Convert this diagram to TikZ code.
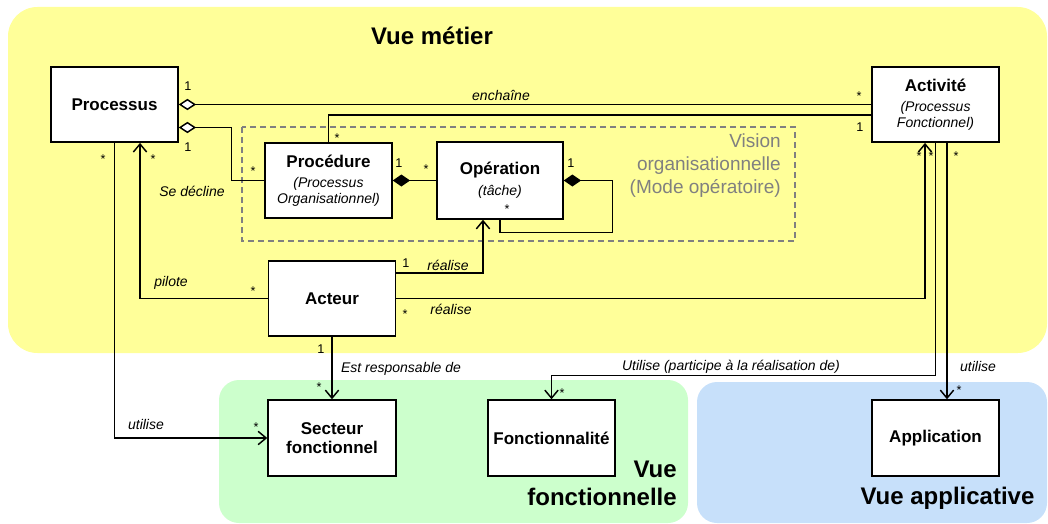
\documentclass[tikz,border=0pt]{standalone}
\usepackage{fontspec}
\setmainfont{Liberation Sans}
\usetikzlibrary{arrows.meta,calc}
\definecolor{yel}{RGB}{255,255,153}
\definecolor{grn}{RGB}{204,255,204}
\definecolor{blu}{RGB}{199,224,250}
\definecolor{gtxt}{RGB}{128,128,128}
\newcommand\bxf{\fontsize{12.75}{15}\selectfont\bfseries}
\newcommand\subf{\fontsize{10.5}{12}\selectfont\itshape}
\begin{document}
\begin{tikzpicture}[x=0.75pt,y=-0.75pt,
  box/.style={draw=black, fill=white, line width=1.1pt, inner sep=0pt, align=center,
              minimum width=95.25pt, minimum height=56.5pt},
  conn/.style={line width=1.1pt},
  arr/.style={conn, -{Straight Barb[length=6pt,width=10pt,line width=1.1pt]}},
  aggr/.style={conn, {Diamond[fill=white,length=13pt,width=8.5pt,line width=1.1pt]}-},
  comp/.style={conn, {Diamond[fill=black,length=13pt,width=9pt,line width=1.1pt]}-},
  lab/.style={font=\fontsize{10.5}{12.6}\selectfont\itshape, inner sep=0pt},
  mult/.style={font=\fontsize{9.5}{10}\selectfont, inner sep=0pt},
  star/.style={mult, yshift=-2pt},
  title/.style={font=\fontsize{18}{21}\selectfont\bfseries, inner sep=0pt}
]
\useasboundingbox (0,0) rectangle (1048,524);
% regions
\fill[yel, rounded corners=22pt] (8,7) rectangle (1047,353);
\fill[grn, rounded corners=15pt] (219,380) rectangle (688,523);
\fill[blu, rounded corners=15pt] (697,382) rectangle (1047,523);
\draw[gtxt, line width=0.8pt, dash pattern=on 4.5pt off 3pt] (242,127) rectangle (795,241);

% titles
\node[title] (tmetier) at (432,36) {Vue métier};
\node[title, align=right, anchor=east] (tfonc) at (677,483) {Vue\\fonctionnelle};
\node[title] (tappl) at (947.5,498) {Vue applicative};
\node[font=\fontsize{14.25}{17.25}\selectfont, text=gtxt, align=right, anchor=east, inner sep=0pt] (vision) at (781,166) {Vision\\organisationnelle\\(Mode opératoire)};

% boxes
\node[box] (proc) at (114.5,104.5) {\bxf Processus};
\node[box] (activ) at (935.5,104.5) {{\bxf Activité}\\[3pt]\subf (Processus\\\subf Fonctionnel)};
\node[box] (procd) at (328.5,180.5) {{\bxf Procédure}\\[3pt]\subf (Processus\\\subf Organisationnel)};
\node[box, minimum width=94.5pt, minimum height=57.75pt] (oper) at (500,180.5) {{\bxf Opération}\\[4pt]\subf (tâche)};
\node[box] (acteur) at (332,298.5) {\bxf Acteur};
\node[box, minimum width=96pt, minimum height=57pt] (secteur) at (332,438) {\bxf Secteur\\[2pt]\bxf fonctionnel};
\node[box, minimum height=57pt] (fonct) at (551.5,438) {\bxf Fonctionnalité};
\node[box, minimum height=57pt] (appli) at (935.5,438) {\bxf Application};

% connectors
\draw[aggr] (proc.east) -- (activ.west);
\draw[aggr] ($(proc.east)+(0,23)$) -| ($(procd.west)+(-33,0)$) -- (procd.west);
\draw[conn] ($(activ.west)+(0,10.5)$) -| (procd.north);
\draw[comp] (procd.east) -- (oper.west);
\draw[comp] (oper.east) -- ++(49,0) |- ($(oper.south)+(0,13)$) -- (oper.south);
\draw[arr] ($(acteur.east)+(0,-25.5)$) -| ($(oper.south)+(-17,0)$);
\draw[arr] (acteur.east) -| ($(activ.south)+(-10.5,0)$);
\draw[arr] (activ.south) |- ($(fonct.north)+(0,-24)$) -- (fonct.north);
\draw[arr] ($(activ.south)+(11.5,0)$) -- ($(appli.north)+(11.5,0)$);
\draw[arr] (proc.south) |- (secteur.west);
\draw[arr] (acteur.west) -| ($(proc.south)+(25.5,0)$);
\draw[arr] (acteur.south) -- (secteur.north);

% labels
\node[lab] (lench) at (501,95) {enchaîne};
\node[lab] (ldecl) at (192,191) {Se décline};
\node[lab] (lreal1) at (448,265) {réalise};
\node[lab] (lreal2) at (451,309) {réalise};
\node[lab] (lpil) at (171,283) {pilote};
\node[lab] (lresp) at (401,369) {Est responsable de};
\node[lab] (lutil1) at (731,367) {Utilise (participe à la réalisation de)};
\node[lab] (lutil2) at (978,366) {utilise};
\node[lab] (lutil3) at (146,424) {utilise};

% multiplicities
\node[mult] (m1) at (188,86) {1};
\node[mult] (m2) at (188,147) {1};
\node[star] (m3) at (103,156) {*};
\node[star] (m4) at (153,156) {*};
\node[star] (m5) at (253,168) {*};
\node[star] (m6) at (337,135) {*};
\node[star] (m7) at (859,93) {*};
\node[mult] (m8) at (860,127) {1};
\node[mult] (m9) at (399,163) {1};
\node[star] (m10) at (426,166) {*};
\node[mult] (m11) at (571,163) {1};
\node[star] (m12) at (507,206) {*};
\node[mult] (m13) at (406,263) {1};
\node[star] (m14) at (405,311) {*};
\node[star] (m15) at (253,288) {*};
\node[mult] (m16) at (321,349) {1};
\node[star] (m17) at (319,384) {*};
\node[star] (m18) at (919,153) {*};
\node[star] (m19) at (931,153) {*};
\node[star] (m20) at (956,153) {*};
\node[star] (m21) at (562,390) {*};
\node[star] (m22) at (959,387) {*};
\node[star] (m23) at (256,424) {*};
\end{tikzpicture}
\end{document}
